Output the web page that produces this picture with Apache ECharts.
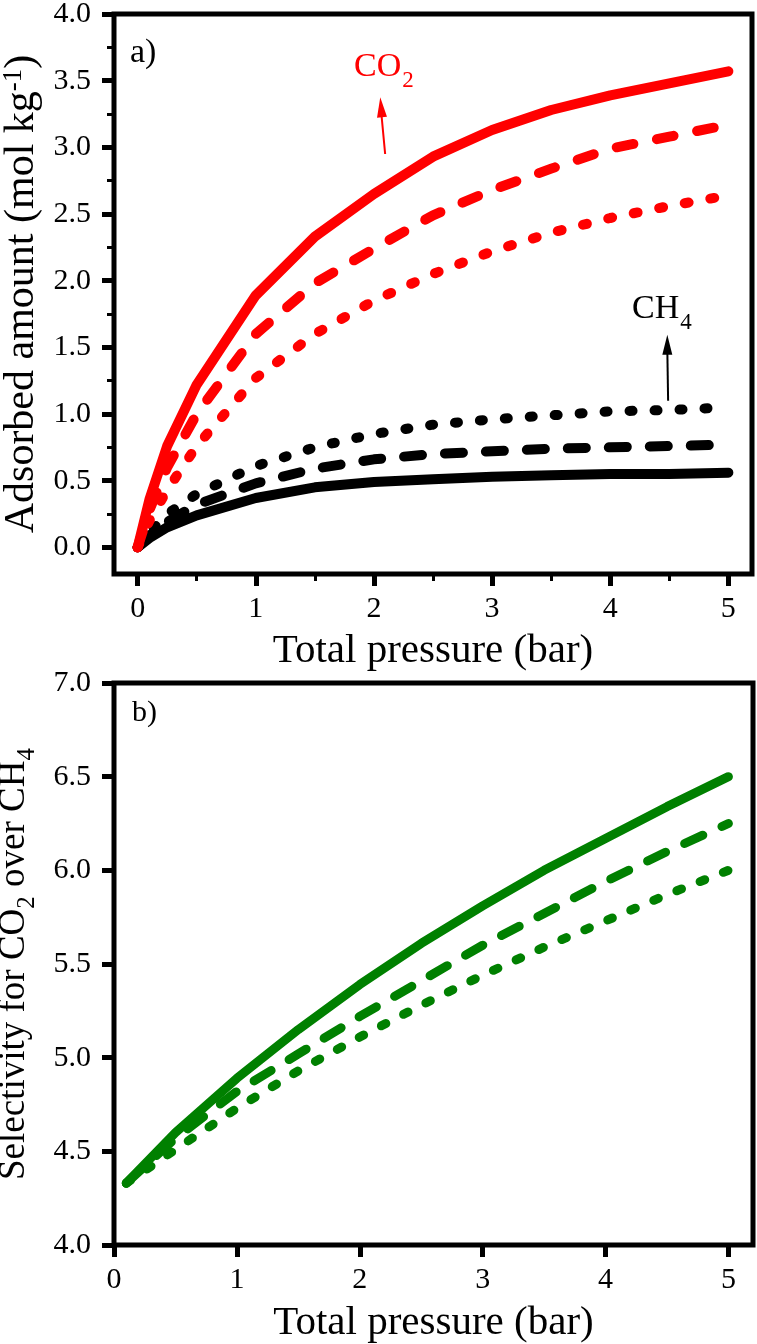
<!DOCTYPE html>
<html>
<head>
<meta charset="utf-8">
<script src="https://cdn.jsdelivr.net/npm/echarts@6/dist/echarts.min.js"></script>
<style>html,body{margin:0;padding:0;background:#fff;}#c{width:757px;height:1344px;}</style>
</head>
<body>
<div id="c"></div>
<script>
// ---- Panel a: adsorbed amount vs total pressure ----
const pressureA = [0, 0.1, 0.25, 0.5, 1, 1.5, 2, 2.5, 3, 3.5, 4, 4.5, 5];
const co2Solid  = [0, 0.36, 0.76, 1.22, 1.89, 2.33, 2.65, 2.93, 3.13, 3.28, 3.39, 3.48, 3.57];
const co2Dashed = [0, 0.28, 0.60, 1.00, 1.60, 1.98, 2.24, 2.49, 2.68, 2.84, 2.99, 3.08, 3.17];
const co2Dotted = [0, 0.20, 0.43, 0.76, 1.27, 1.60, 1.85, 2.05, 2.22, 2.36, 2.47, 2.56, 2.64];
const ch4Dotted = [0, 0.11, 0.25, 0.40, 0.61, 0.75, 0.85, 0.92, 0.96, 0.99, 1.02, 1.03, 1.05];
const ch4Dashed = [0, 0.09, 0.19, 0.32, 0.48, 0.59, 0.66, 0.70, 0.72, 0.74, 0.75, 0.76, 0.77];
const ch4Solid  = [0, 0.07, 0.15, 0.24, 0.37, 0.45, 0.49, 0.51, 0.53, 0.54, 0.55, 0.55, 0.56];
const xTicksA = [0, 1, 2, 3, 4, 5];
const xMinorA = [0.5, 1.5, 2.5, 3.5, 4.5];
const yTicksA = [0, 0.5, 1, 1.5, 2, 2.5, 3, 3.5, 4];
const yMinorA = [0.25, 0.75, 1.25, 1.75, 2.25, 2.75, 3.25, 3.75];

// ---- Panel b: selectivity vs total pressure ----
const pressureB = [0.1, 0.5, 1, 1.5, 2, 2.5, 3, 3.5, 4, 4.5, 5];
const selSolid  = [4.33, 4.60, 4.89, 5.15, 5.39, 5.61, 5.81, 6.00, 6.17, 6.34, 6.50];
const selDashed = [4.33, 4.57, 4.82, 5.02, 5.22, 5.41, 5.60, 5.77, 5.94, 6.10, 6.25];
const selDotted = [4.33, 4.51, 4.73, 4.93, 5.11, 5.28, 5.44, 5.59, 5.73, 5.87, 6.00];
const xTicksB = [0, 1, 2, 3, 4, 5];
const yTicksB = [4, 4.5, 5, 5.5, 6, 6.5, 7];

const FONT = '"Liberation Serif", "Times New Roman", serif';
const pts = (xs, ys) => xs.map((x, i) => [x, ys[i]]);

function mainAxisTick(vals) {
  return { show: true, inside: false, customValues: vals, length: 12, lineStyle: { color: '#000', width: 5 } };
}
function minorAxisTick(vals) {
  return { show: true, inside: false, customValues: vals, length: 7, lineStyle: { color: '#000', width: 3 } };
}
const labelBase = { color: '#000', fontSize: 30, fontFamily: FONT };
const nameBase = { color: '#000', fontSize: 41, fontFamily: FONT };
const noLine = { show: false, onZero: false };

function line(name, data, xi, yi, color, width, dash) {
  return {
    type: 'line', name, data, xAxisIndex: xi, yAxisIndex: yi,
    symbol: 'none', silent: true,
    lineStyle: { color, width, type: dash || 'solid', cap: 'round', join: 'round' }
  };
}
function arrow(color, tail, tip, head, rot) {
  return {
    markLine: {
      silent: true, symbol: ['none', 'none'], animation: false,
      label: { show: false },
      lineStyle: { color, width: 2, type: 'solid' },
      data: [[{ coord: tail }, { coord: tip }]]
    },
    markPoint: {
      silent: true, animation: false,
      symbol: 'triangle', symbolSize: [10, 20], symbolRotate: rot,
      label: { show: false },
      itemStyle: { color },
      data: [{ coord: head }]
    }
  };
}

const chart = echarts.init(document.getElementById('c'), null, { renderer: 'canvas' });

const seriesA = [
  line('CH4 dotted', pts(pressureA, ch4Dotted), 0, 0, '#000', 10, [3, 22]),
  line('CH4 dashed', pts(pressureA, ch4Dashed), 0, 0, '#000', 10, [18, 23]),
  line('CH4 solid', pts(pressureA, ch4Solid), 0, 0, '#000', 10),
  line('CO2 dotted', pts(pressureA, co2Dotted), 0, 0, '#ff0000', 10, [4, 22]),
  line('CO2 dashed', pts(pressureA, co2Dashed), 0, 0, '#ff0000', 10, [17, 24]),
  line('CO2 solid', pts(pressureA, co2Solid), 0, 0, '#ff0000', 10)
];
Object.assign(seriesA[2], arrow('#000', [4.49, 1.10], [4.483, 1.50], [4.483, 1.52], 0));
Object.assign(seriesA[5], arrow('#ff0000', [2.095, 2.95], [2.06, 3.28], [2.061, 3.30], 5));

const seriesB = [
  line('Sel dotted', pts(pressureB, selDotted), 2, 2, '#008000', 9, [5, 20]),
  line('Sel dashed', pts(pressureB, selDashed), 2, 2, '#008000', 9, [20, 21]),
  line('Sel solid', pts(pressureB, selSolid), 2, 2, '#008000', 9)
];

const option = {
  animation: false,
  backgroundColor: '#fff',
  grid: [
    { left: 114, right: 5, top: 14, bottom: 1344 - 574, show: true, borderColor: '#000', borderWidth: 5, containLabel: false, outerBoundsMode: 'none' },
    { left: 114, right: 4, top: 683, bottom: 1344 - 1245, show: true, borderColor: '#000', borderWidth: 5, containLabel: false, outerBoundsMode: 'none' }
  ],
  xAxis: [
    { gridIndex: 0, type: 'value', min: -0.2, max: 5.2, position: 'bottom',
      axisLine: noLine, splitLine: { show: false },
      axisTick: mainAxisTick(xTicksA),
      axisLabel: Object.assign({ customValues: xTicksA, margin: 20, formatter: v => String(v) }, labelBase),
      name: 'Total pressure (bar)', nameLocation: 'middle', nameGap: 57, nameTextStyle: nameBase },
    { gridIndex: 0, type: 'value', min: -0.2, max: 5.2, position: 'bottom',
      axisLine: noLine, splitLine: { show: false },
      axisTick: minorAxisTick(xMinorA), axisLabel: { show: false } },
    { gridIndex: 1, type: 'value', min: 0, max: 5.2, position: 'bottom',
      axisLine: noLine, splitLine: { show: false },
      axisTick: mainAxisTick(xTicksB),
      axisLabel: Object.assign({ customValues: xTicksB, margin: 20, formatter: v => String(v) }, labelBase),
      name: 'Total pressure (bar)', nameLocation: 'middle', nameGap: 58, nameTextStyle: nameBase }
  ],
  yAxis: [
    { gridIndex: 0, type: 'value', min: -0.2, max: 4.0, position: 'left',
      axisLine: noLine, splitLine: { show: false },
      axisTick: mainAxisTick(yTicksA),
      axisLabel: Object.assign({ customValues: yTicksA, margin: 23, formatter: v => v.toFixed(1) }, labelBase),
      name: '{m|Adsorbed amount (mol kg}{s|-1}{m|)}', nameLocation: 'middle', nameGap: 70,
      nameTextStyle: Object.assign({}, nameBase, {
        rich: {
          m: { fontSize: 42, fontFamily: FONT, color: '#000', verticalAlign: 'bottom' },
          s: { fontSize: 27, fontFamily: FONT, color: '#000', verticalAlign: 'top' }
        }
      }) },
    { gridIndex: 0, type: 'value', min: -0.2, max: 4.0, position: 'left',
      axisLine: noLine, splitLine: { show: false },
      axisTick: minorAxisTick(yMinorA), axisLabel: { show: false } },
    { gridIndex: 1, type: 'value', min: 4, max: 7, position: 'left',
      axisLine: noLine, splitLine: { show: false },
      axisTick: mainAxisTick(yTicksB),
      axisLabel: Object.assign({ customValues: yTicksB, margin: 23, formatter: v => v.toFixed(1) }, labelBase),
      name: '{m|Selectivity for CO}{s|2}{m| over CH}{s|4}', nameLocation: 'middle', nameGap: 74,
      nameTextStyle: Object.assign({}, nameBase, {
        rich: {
          m: { fontSize: 37, fontFamily: FONT, color: '#000', verticalAlign: 'top' },
          s: { fontSize: 25, fontFamily: FONT, color: '#000', verticalAlign: 'top', padding: [19, 0, 0, 0] }
        }
      }) }
  ],
  graphic: [
    { type: 'text', x: 130, y: 36, silent: true,
      style: { text: 'a)', fontSize: 34, fontFamily: FONT, fill: '#000' } },
    { type: 'text', x: 132, y: 698, silent: true,
      style: { text: 'b)', fontSize: 30, fontFamily: FONT, fill: '#000' } },
    { type: 'text', x: 354, y: 50, silent: true,
      style: { text: '{m|CO}{s|2}', fill: '#ff0000',
        rich: {
          m: { fontSize: 34, fontFamily: FONT, fill: '#ff0000', verticalAlign: 'top' },
          s: { fontSize: 23, fontFamily: FONT, fill: '#ff0000', verticalAlign: 'top', padding: [19, 0, 0, 1] }
        } } },
    { type: 'text', x: 632, y: 292, silent: true,
      style: { text: '{m|CH}{s|4}', fill: '#000',
        rich: {
          m: { fontSize: 34, fontFamily: FONT, fill: '#000', verticalAlign: 'top' },
          s: { fontSize: 23, fontFamily: FONT, fill: '#000', verticalAlign: 'top', padding: [19, 0, 0, 1] }
        } } }
  ],
  series: seriesA.concat(seriesB)
};
chart.setOption(option);
</script>
</body>
</html>
